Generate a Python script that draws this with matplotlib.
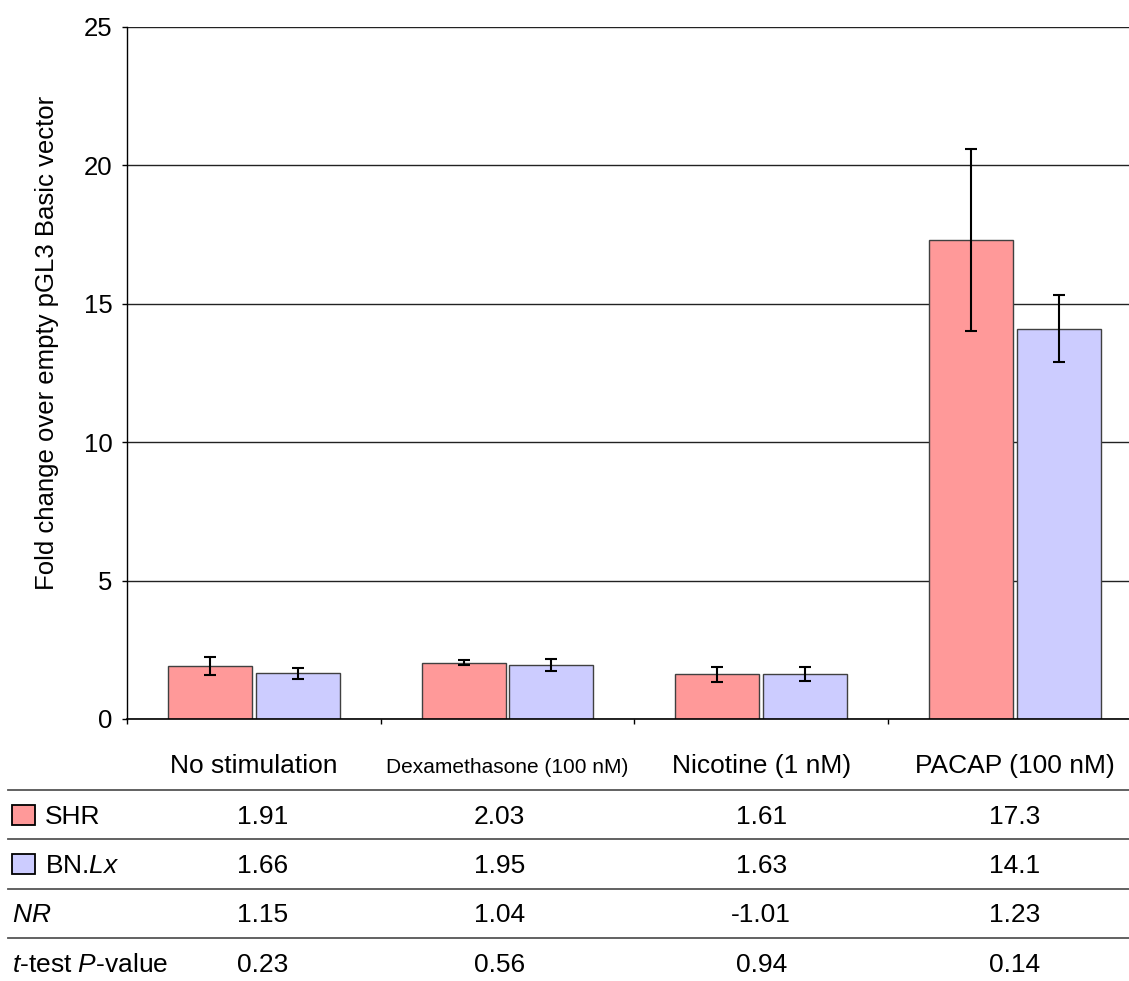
import matplotlib
matplotlib.use("Agg")
import matplotlib.pyplot as plt
import numpy as np
from matplotlib import font_manager
from matplotlib.lines import Line2D
from matplotlib.patches import Rectangle
from matplotlib.transforms import blended_transform_factory

# ---- data ----
categories = ["No stimulation", "Dexamethasone (100 nM)", "Nicotine (1 nM)", "PACAP (100 nM)"]
shr = [1.91, 2.03, 1.61, 17.3]
shr_err = [0.32, 0.09, 0.28, 3.3]
bnlx = [1.66, 1.95, 1.63, 14.1]
bnlx_err = [0.20, 0.20, 0.25, 1.2]
nr_labels = ["1.15", "1.04", "-1.01", "1.23"]
p_labels = ["0.23", "0.56", "0.94", "0.14"]
yticks = [0, 5, 10, 15, 20, 25]

SHR_COLOR = "#FF9999"
BN_COLOR = "#CCCCFF"

plt.rcParams["font.family"] = ["Liberation Sans", "DejaVu Sans"]
plt.rcParams["mathtext.fontset"] = "custom"
plt.rcParams["mathtext.rm"] = "Liberation Sans"
plt.rcParams["mathtext.it"] = "Liberation Sans:italic"

names = {f.name for f in font_manager.fontManager.ttflist}
if "Liberation Sans Narrow" in names:
    narrow = dict(family="Liberation Sans Narrow", fontsize=18)
else:
    narrow = dict(family="Liberation Sans", fontsize=15)

W, H = 1129, 981
FS = 19


def fy(py):
    return 1 - py / H


fig = plt.figure(figsize=(W / 100, H / 100), dpi=100)
cat_w = 253.7  # px per category
ax = fig.add_axes([127 / W, fy(719), 4 * cat_w / W, 692 / H])

x = np.arange(len(categories))
off, bw = 0.1725, 0.331
err_kw = dict(ecolor="black", elinewidth=1.5, capsize=4, capthick=1.5)
ax.bar(x - off, shr, bw, color=SHR_COLOR, edgecolor="#404040", linewidth=1,
       yerr=shr_err, error_kw=err_kw, zorder=2)
ax.bar(x + off, bnlx, bw, color=BN_COLOR, edgecolor="#404040", linewidth=1,
       yerr=bnlx_err, error_kw=err_kw, zorder=2)

ax.set_xlim(-0.5, len(categories) - 0.5)
ax.set_ylim(0, 25)
ax.set_yticks(yticks)
ax.yaxis.grid(True, color="#222222", linewidth=1)
ax.set_axisbelow(True)
ax.set_xticks(np.arange(len(categories) + 1) - 0.5)
ax.tick_params(axis="x", length=3.6, width=1, labelbottom=False)
ax.tick_params(axis="y", length=3.6, width=1, pad=7, labelsize=18.5)
for s in ["top", "right"]:
    ax.spines[s].set_visible(False)
ax.spines["left"].set_linewidth(1)
ax.spines["bottom"].set_linewidth(1.2)

fig.text(47 / W, fy(343), "Fold change over empty pGL3 Basic vector",
         rotation=90, ha="center", va="center", fontsize=18.5)

# ---- data table below the chart ----
tr = blended_transform_factory(ax.transData, fig.transFigure)
nudge = [9, -8, 0, 0]  # px, column text offsets
base = 9  # baseline below row centre (px)

header_y = 764
row_y = [815, 864, 913, 963]
line_y = [789.5, 839, 888.5, 938]

for i, c in enumerate(categories):
    kw = narrow if c.startswith("Dexa") else dict(fontsize=FS)
    fig.text(i, fy(header_y + base), c, transform=tr, ha="center", va="baseline", **kw)

rows = [[f"{v:.3g}" for v in shr], [f"{v:.3g}" for v in bnlx], nr_labels, p_labels]
for r, vals in enumerate(rows):
    for i, v in enumerate(vals):
        fig.text(i + nudge[i] / cat_w, fy(row_y[r] + base), v, transform=tr,
                 ha="center", va="baseline", fontsize=FS)

row_names = ["SHR", r"BN.$\mathit{Lx}$", r"$\mathit{NR}$", r"$\mathit{t}$-test $\mathit{P}$-value"]
for r, name in enumerate(row_names):
    xt = 45 if r < 2 else 12
    fig.text(xt / W, fy(row_y[r] + base), name, ha="left", va="baseline", fontsize=FS)

for r, col in enumerate([SHR_COLOR, BN_COLOR]):
    fig.add_artist(Rectangle((12 / W, fy(row_y[r] + 10)), 23 / W, 20 / H,
                             transform=fig.transFigure, facecolor=col,
                             edgecolor="black", linewidth=1.3))

for ly in line_y:
    fig.add_artist(Line2D([8 / W, 1], [fy(ly), fy(ly)], transform=fig.transFigure,
                          color="#555555", linewidth=1.3))

fig.savefig("out.png", dpi=100)
